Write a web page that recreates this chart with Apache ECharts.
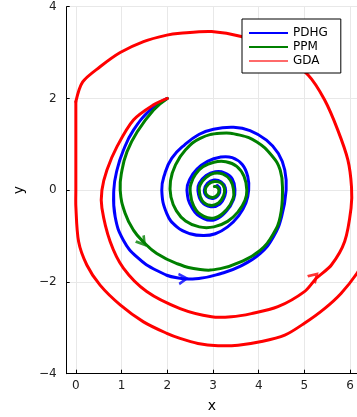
<!DOCTYPE html>
<html>
<head>
<meta charset="utf-8">
<script src="https://cdn.jsdelivr.net/npm/echarts@6/dist/echarts.min.js"></script>
<style>
  html, body { margin: 0; padding: 0; background: #fff; }
  #chart { width: 357px; height: 417px; }
</style>
</head>
<body>
<div id="chart"></div>
<script>
// trajectories (x, y)
const pdhgX = [2.0, 1.63, 1.26, 1.04, 0.90, 0.83, 0.86, 1.04, 1.34, 1.77, 2.21, 2.72, 3.16, 3.59, 4.03, 4.32, 4.50, 4.60, 4.57, 4.43, 4.17, 3.81, 3.45, 3.01, 2.70, 2.38, 2.10, 1.95, 1.88, 1.99, 2.21, 2.50, 2.80, 3.05, 3.32, 3.56, 3.72, 3.78, 3.76, 3.64, 3.42, 3.15, 2.88, 2.65, 2.50, 2.43, 2.55, 2.80, 3.05, 3.30, 3.45, 3.48, 3.42, 3.25, 3.05, 2.85, 2.70, 2.67, 2.75, 2.95, 3.15, 3.26, 3.27, 3.18, 3.02, 2.88, 2.81, 2.86, 3.0, 3.12, 3.15, 3.10, 3.07];
const pdhgY = [2.0, 1.75, 1.31, 0.87, 0.44, 0.0, -0.58, -1.09, -1.46, -1.75, -1.91, -1.92, -1.82, -1.66, -1.38, -1.02, -0.58, 0.0, 0.44, 0.80, 1.09, 1.30, 1.37, 1.33, 1.22, 0.99, 0.70, 0.37, 0.0, -0.51, -0.80, -0.95, -0.99, -0.95, -0.80, -0.56, -0.28, 0.0, 0.30, 0.56, 0.71, 0.72, 0.63, 0.46, 0.25, 0.0, -0.40, -0.62, -0.64, -0.45, -0.20, 0.0, 0.25, 0.38, 0.40, 0.32, 0.15, 0.0, -0.25, -0.36, -0.30, -0.12, 0.05, 0.18, 0.22, 0.15, 0.0, -0.13, -0.18, -0.10, 0.02, 0.10, 0.08];

const ppmX = [2.0, 1.70, 1.34, 1.12, 1.01, 0.97, 1.08, 1.26, 1.48, 1.77, 2.21, 2.72, 3.16, 3.59, 4.03, 4.32, 4.47, 4.52, 4.47, 4.28, 3.96, 3.59, 3.16, 2.72, 2.40, 2.18, 2.07, 2.08, 2.20, 2.40, 2.70, 3.02, 3.32, 3.55, 3.70, 3.74, 3.68, 3.52, 3.28, 3.02, 2.78, 2.62, 2.53, 2.50, 2.58, 2.80, 3.05, 3.30, 3.44, 3.45, 3.38, 3.22, 3.02, 2.85, 2.72, 2.70, 2.76, 2.94, 3.12, 3.23, 3.25, 3.17, 3.03, 2.90, 2.83, 2.88, 3.0, 3.10, 3.13, 3.09, 3.03];
const ppmY = [2.0, 1.75, 1.27, 0.84, 0.44, 0.0, -0.51, -0.87, -1.13, -1.38, -1.60, -1.73, -1.71, -1.57, -1.31, -0.95, -0.58, 0.0, 0.44, 0.76, 1.05, 1.20, 1.24, 1.13, 0.88, 0.55, 0.20, -0.15, -0.45, -0.67, -0.80, -0.80, -0.68, -0.47, -0.22, 0.0, 0.30, 0.52, 0.62, 0.61, 0.51, 0.35, 0.17, 0.0, -0.35, -0.57, -0.60, -0.42, -0.18, 0.0, 0.22, 0.35, 0.37, 0.28, 0.12, 0.0, -0.22, -0.33, -0.28, -0.12, 0.04, 0.16, 0.19, 0.13, 0.0, -0.12, -0.16, -0.10, 0.0, 0.07, 0.08];

const gdaX = [2.0, 1.70, 1.26, 0.90, 0.68, 0.57, 0.57, 0.75, 1.04, 1.55, 2.28, 2.97, 3.40, 3.84, 4.42, 5.0, 5.26, 5.59, 5.88, 6.02, 6.03, 5.95, 5.73, 5.44, 5.08, 4.40, 3.62, 2.97, 2.28, 1.99, 1.48, 0.97, 0.53, 0.15, 0.0, 0.0, 0.0, 0.0, 0.06, 0.24, 0.53, 0.97, 1.48, 1.99, 2.28, 2.67, 3.11, 3.55, 4.06, 4.57, 5.0, 5.44, 5.80, 6.15, 6.45];
const gdaY = [2.0, 1.86, 1.53, 0.95, 0.44, 0.0, -0.39, -1.12, -1.70, -2.21, -2.58, -2.76, -2.76, -2.69, -2.54, -2.21, -1.92, -1.63, -1.12, -0.39, 0.07, 0.66, 1.31, 1.97, 2.51, 3.05, 3.35, 3.46, 3.42, 3.38, 3.24, 3.0, 2.69, 2.36, 1.93, 1.0, 0.0, -0.35, -1.12, -1.63, -2.07, -2.50, -2.87, -3.12, -3.23, -3.34, -3.39, -3.38, -3.30, -3.16, -2.90, -2.58, -2.25, -1.81, -1.30];

// direction arrows: position and heading (degrees, counter-clockwise)
const arrowNames = ['PDHG', 'PPM', 'GDA'];
const arrowX = [2.34, 1.45, 5.21];
const arrowY = [-1.93, -1.12, -1.89];
const arrowAngle = [4, -52, 45];

const xTicks = [0, 1, 2, 3, 4, 5, 6];
const yTicks = [-4, -2, 0, 2, 4];

const COLORS = { PDHG: '#0000ff', PPM: '#008000', GDA: '#ff0000' };
const FONT = 'DejaVu Sans';

const zip = (xs, ys) => xs.map((x, i) => [x, ys[i]]);
const minus = (v) => String(v).replace('-', '\u2212');

// split a path where it first lands on the x = 0 bound (sharp corner there)
const splitAtBound = (pts, xs) => {
  const k = xs.findIndex((x, i) => i > 0 && x <= 0 && xs[i - 1] > 0);
  if (k < 0) return [pts];
  return [pts.slice(0, k + 1), pts.slice(k)];
};

// one smooth path per trajectory, placed through the cartesian scales
const curveSeries = (name, xs, ys, smooth) => ({
  name: name,
  type: 'custom',
  coordinateSystem: 'cartesian2d',
  data: zip(xs, ys),
  encode: { x: 0, y: 1 },
  clip: true,
  silent: true,
  itemStyle: { color: COLORS[name] },
  z: 2,
  renderItem: (params, api) => {
    if (params.dataIndex !== 0) return null;
    const pts = xs.map((x, i) => api.coord([x, ys[i]]));
    return {
      type: 'group',
      children: splitAtBound(pts, xs).map((part) => ({
        type: 'polyline',
        shape: { points: part, smooth: smooth },
        style: { stroke: COLORS[name], lineWidth: 3, fill: null, lineJoin: 'round', lineCap: 'round' },
      })),
    };
  },
});

const arrowSeries = arrowNames.map((name, i) => ({
  name: name + ' arrow',
  type: 'scatter',
  data: [[arrowX[i], arrowY[i]]],
  symbol: 'path://M0,0L9,5L0,10',
  symbolSize: [8, 10],
  symbolRotate: arrowAngle[i],
  itemStyle: { color: 'rgba(0,0,0,0)', borderColor: COLORS[name], borderWidth: 2.5 },
  silent: true,
  z: 3,
}));

const chart = echarts.init(document.getElementById('chart'));
chart.setOption({
  animation: false,
  backgroundColor: '#fff',
  textStyle: { fontFamily: FONT },
  grid: { left: 66.7, right: 0, top: 6.7, bottom: 43.3, outerBoundsMode: 'none' },
  legend: {
    orient: 'vertical',
    left: 242,
    top: 19,
    data: [
      { name: 'PDHG', icon: 'rect', itemStyle: { color: COLORS.PDHG } },
      { name: 'PPM', icon: 'rect', itemStyle: { color: COLORS.PPM } },
      { name: 'GDA', icon: 'rect', itemStyle: { color: '#ff6a6a' } },
    ],
    itemWidth: 39,
    itemHeight: 1.8,
    itemGap: 2,
    padding: [8, 13, 6, 7],
    backgroundColor: '#fff',
    borderColor: '#000',
    borderWidth: 1,
    borderRadius: 0,
    textStyle: { fontFamily: FONT, fontSize: 12, color: '#000', lineHeight: 12 },
  },
  xAxis: {
    type: 'value',
    min: -0.2,
    max: 6.15,
    splitNumber: 6,
    name: 'x',
    nameLocation: 'middle',
    nameGap: 26,
    nameTextStyle: { fontFamily: FONT, fontSize: 14, color: '#000' },
    axisLine: { onZero: false, lineStyle: { color: '#000', width: 1 } },
    axisTick: { inside: true, length: 4, lineStyle: { color: '#000' } },
    axisLabel: {
      margin: 6, fontSize: 12, color: '#222', fontFamily: FONT,
      showMinLabel: false, showMaxLabel: false,
      formatter: (v) => (xTicks.includes(v) ? minus(v) : ''),
    },
    splitLine: { show: true, lineStyle: { color: '#e8e8e8', width: 1 } },
  },
  yAxis: {
    type: 'value',
    min: -4,
    max: 4,
    interval: 2,
    name: 'y',
    nameLocation: 'middle',
    nameGap: 40,
    nameRotate: 90,
    nameTextStyle: { fontFamily: FONT, fontSize: 14, color: '#000' },
    axisLine: { show: true, onZero: false, lineStyle: { color: '#000', width: 1 } },
    axisTick: { show: true, inside: true, length: 3, lineStyle: { color: '#000' } },
    axisLabel: {
      margin: 10, fontSize: 12, color: '#222', fontFamily: FONT,
      formatter: (v) => (yTicks.includes(v) ? minus(v) : ''),
    },
    splitLine: { show: true, lineStyle: { color: '#e8e8e8', width: 1 } },
  },
  series: [
    curveSeries('PDHG', pdhgX, pdhgY, 0.45),
    curveSeries('PPM', ppmX, ppmY, 0.45),
    curveSeries('GDA', gdaX, gdaY, 0.3),
    ...arrowSeries,
  ],
});
</script>
</body>
</html>
